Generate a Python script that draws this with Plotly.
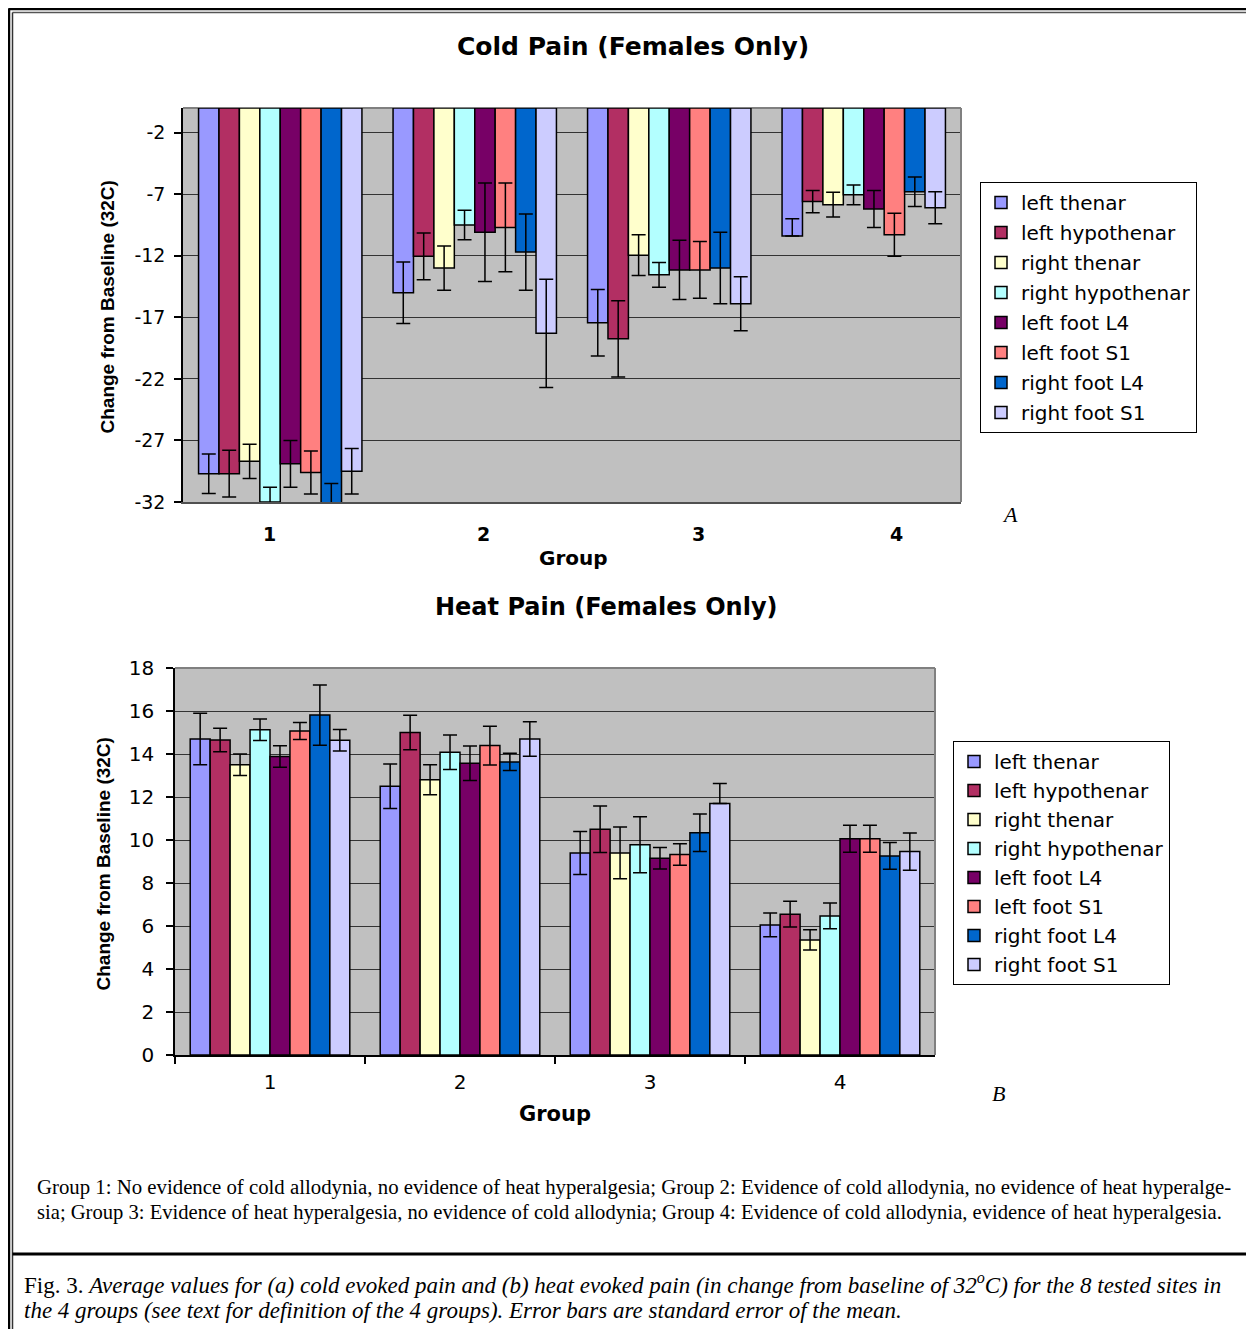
import plotly.graph_objects as go

# The page body adds an 8 px offset, so the figure is drawn 8 px smaller
# and reference pixel positions are mapped with that offset.
OFF = 8
W, H = 1254 - OFF, 1329 - OFF


def px(x):
    return (x - OFF) / W


def py(y):
    return 1 - (y - OFF) / H


groups = ["1", "2", "3", "4"]
sites = ["left thenar", "left hypothenar", "right thenar", "right hypothenar",
         "left foot L4", "left foot S1", "right foot L4", "right foot S1"]
colors = ["#9999FF", "#B22F63", "#FFFFCC", "#B3FFFF",
          "#770066", "#FF8080", "#0066CC", "#CCCCFF"]

# Cold pain (change from baseline), one list per site, groups 1-4
cold_vals = [
    [-29.7, -15.0, -17.45, -10.4],
    [-29.7, -12.05, -18.75, -7.6],
    [-28.7, -13.0, -11.95, -7.85],
    [-32.0, -9.5, -13.55, -7.05],
    [-28.9, -10.1, -13.15, -8.2],
    [-29.6, -9.7, -13.15, -10.3],
    [-32.1, -11.7, -13.0, -6.8],
    [-29.5, -18.3, -15.9, -8.1],
]
cold_err_hi = [
    [1.6, 2.5, 2.7, 1.4],
    [1.9, 1.9, 3.1, 0.9],
    [1.4, 1.8, 1.65, 1.0],
    [1.2, 1.2, 1.0, 0.8],
    [1.9, 4.0, 2.4, 1.5],
    [1.75, 3.6, 2.3, 1.75],
    [1.6, 3.1, 2.9, 1.2],
    [1.85, 4.4, 2.2, 1.3],
]
cold_err_lo = [
    [1.6, 2.5, 2.7, 0.0],
    [1.9, 1.9, 3.1, 0.9],
    [1.4, 1.8, 1.65, 1.0],
    [1.2, 1.2, 1.0, 0.8],
    [1.9, 4.0, 2.4, 1.5],
    [1.75, 3.6, 2.3, 1.75],
    [1.6, 3.1, 2.9, 1.2],
    [1.85, 4.4, 2.2, 1.3],
]

# Heat pain (change from baseline)
heat_vals = [
    [14.7, 12.5, 9.4, 6.05],
    [14.65, 15.0, 10.5, 6.55],
    [13.5, 12.8, 9.4, 5.35],
    [15.13, 14.08, 9.78, 6.47],
    [13.88, 13.57, 9.15, 10.06],
    [15.07, 14.39, 9.33, 10.06],
    [15.81, 13.63, 10.34, 9.26],
    [14.64, 14.7, 11.7, 9.46],
]
heat_err_hi = [
    [1.2, 1.03, 1.0, 0.55],
    [0.55, 0.8, 1.08, 0.6],
    [0.5, 0.7, 1.2, 0.47],
    [0.5, 0.8, 1.3, 0.6],
    [0.5, 0.8, 0.5, 0.63],
    [0.4, 0.9, 0.5, 0.63],
    [1.4, 0.4, 0.87, 0.62],
    [0.5, 0.8, 0.93, 0.87],
]
heat_err_lo = [
    [1.2, 1.03, 1.0, 0.55],
    [0.55, 0.8, 1.08, 0.6],
    [0.5, 0.7, 1.2, 0.47],
    [0.5, 0.8, 1.3, 0.6],
    [0.5, 0.8, 0.5, 0.63],
    [0.4, 0.9, 0.5, 0.63],
    [1.4, 0.4, 0.87, 0.62],
    [0.5, 0.8, 0.0, 0.87],
]

cold_ticks = [-2, -7, -12, -17, -22, -27, -32]
heat_ticks = [0, 2, 4, 6, 8, 10, 12, 14, 16, 18]

SANS = "DejaVu Sans"
ARIAL = "Liberation Sans, Arial"
SERIF = "Liberation Serif, Times New Roman"

fig = go.Figure()

for i, s in enumerate(sites):
    fig.add_trace(go.Bar(
        x=groups, y=cold_vals[i], name=s,
        marker=dict(color=colors[i], line=dict(color="black", width=1.5)),
        error_y=dict(type="data", symmetric=False, array=cold_err_hi[i],
                     arrayminus=cold_err_lo[i], color="black",
                     thickness=1.5, width=7),
        xaxis="x", yaxis="y", legend="legend", legendgroup=f"c{i}",
    ))

for i, s in enumerate(sites):
    fig.add_trace(go.Bar(
        x=groups, y=heat_vals[i], name=s,
        marker=dict(color=colors[i], line=dict(color="black", width=1.5)),
        error_y=dict(type="data", symmetric=False, array=heat_err_hi[i],
                     arrayminus=heat_err_lo[i], color="black",
                     thickness=1.5, width=7),
        xaxis="x2", yaxis="y2", legend="legend2", legendgroup=f"h{i}",
    ))

axis_common = dict(fixedrange=True, automargin=False)

fig.update_layout(
    width=W, height=H,
    margin=dict(l=0, r=0, t=0, b=0, pad=0, autoexpand=False),
    paper_bgcolor="white",
    plot_bgcolor="#C0C0C0",
    barmode="group", bargap=0.16, bargroupgap=0,
    font=dict(family=SANS, color="black"),
    xaxis=dict(domain=[px(183), px(961)], anchor="y", type="category",
               showticklabels=False, ticks="", showgrid=False,
               showline=True, linecolor="#505050", linewidth=2,
               **axis_common),
    yaxis=dict(domain=[py(502), py(108)], anchor="x", range=[-32, 0],
               tickvals=cold_ticks, ticktext=[str(v) for v in cold_ticks],
               ticks="outside", ticklen=7,
               tickcolor="black", tickwidth=1.5,
               showline=True, linecolor="black", linewidth=1.5,
               showgrid=True, gridcolor="#333333", gridwidth=1,
               zeroline=False, ticklabelstandoff=5,
               tickfont=dict(family=SANS, size=19, color="black"),
               **axis_common),
    xaxis2=dict(domain=[px(175), px(935)], anchor="y2", type="category",
                ticks="outside", tickson="boundaries", ticklen=7,
                tickcolor="black", tickwidth=1.5, showgrid=False,
                showline=True, linecolor="black", linewidth=1.5,
                ticklabelstandoff=8,
                tickfont=dict(family=SANS, size=20, color="black"),
                **axis_common),
    yaxis2=dict(domain=[py(1055), py(668)], anchor="x2", range=[0, 18],
                tickvals=heat_ticks, ticks="outside", ticklen=7,
                tickcolor="black", tickwidth=1.5,
                showline=True, linecolor="black", linewidth=1.5,
                showgrid=True, gridcolor="#333333", gridwidth=1,
                zeroline=False, ticklabelstandoff=8,
                tickfont=dict(family=SANS, size=20, color="black"),
                **axis_common),
    legend=dict(x=px(980), y=py(182), xanchor="left", yanchor="top",
                bgcolor="white", bordercolor="black", borderwidth=1,
                font=dict(family=SANS, size=20, color="black"),
                traceorder="grouped", tracegroupgap=1,
                itemclick=False, itemdoubleclick=False),
    legend2=dict(x=px(953), y=py(741), xanchor="left", yanchor="top",
                 bgcolor="white", bordercolor="black", borderwidth=1,
                 font=dict(family=SANS, size=20, color="black"),
                 traceorder="grouped", tracegroupgap=0,
                 itemclick=False, itemdoubleclick=False),
)

ann = []
# chart titles
ann.append(dict(text="<b>Cold Pain (Females Only)</b>", x=px(633), y=py(46),
                font=dict(family=SANS, size=25)))
ann.append(dict(text="<b>Heat Pain (Females Only)</b>", x=px(606), y=py(607),
                font=dict(family=SANS, size=24)))
# y axis titles
ann.append(dict(text="<b>Change from Baseline (32C)</b>", x=px(107), y=py(307.5),
                textangle=-90, font=dict(family=ARIAL, size=19)))
ann.append(dict(text="<b>Change from Baseline (32C)</b>", x=px(103), y=py(864.5),
                textangle=-90, font=dict(family=ARIAL, size=19)))
# x axis titles
ann.append(dict(text="<b>Group</b>", x=px(573), y=py(558),
                font=dict(family=SANS, size=20)))
ann.append(dict(text="<b>Group</b>", x=px(555), y=py(1114),
                font=dict(family=SANS, size=21)))
# top chart category labels (offset as in the original)
shifts = [-11, 9, 29, 33]
for k, (g, sh) in enumerate(zip(groups, shifts)):
    ann.append(dict(text=f"<b>{g}</b>", x=k, xref="x", y=py(534), xshift=sh,
                    font=dict(family=SANS, size=19)))
# panel letters
ann.append(dict(text="<i>A</i>", x=px(1010), y=py(514),
                font=dict(family=SERIF, size=22)))
ann.append(dict(text="<i>B</i>", x=px(998), y=py(1093),
                font=dict(family=SERIF, size=22)))
# captions
ann.append(dict(text="Group 1: No evidence of cold allodynia, no evidence of heat hyperalgesia; "
                     "Group 2: Evidence of cold allodynia, no evidence of heat hyperalge-",
                x=px(35), y=py(1187), xanchor="left",
                font=dict(family=SERIF, size=20.8)))
ann.append(dict(text="sia; Group 3: Evidence of heat hyperalgesia, no evidence of cold allodynia; "
                     "Group 4: Evidence of cold allodynia, evidence of heat hyperalgesia.",
                x=px(35), y=py(1212), xanchor="left",
                font=dict(family=SERIF, size=20.6)))
ann.append(dict(text="Fig. 3. <i>Average values for (a) cold evoked pain and (b) heat evoked pain "
                     "(in change from baseline of 32<sup>o</sup>C) for the 8 tested sites in</i>",
                x=px(22), y=py(1283), xanchor="left",
                font=dict(family=SERIF, size=23)))
ann.append(dict(text="<i>the 4 groups (see text for definition of the 4 groups). "
                     "Error bars are standard error of the mean.</i>",
                x=px(22), y=py(1310), xanchor="left",
                font=dict(family=SERIF, size=23)))

for a in ann:
    a.setdefault("xref", "paper")
    a["yref"] = "paper"
    a["showarrow"] = False
    a.setdefault("xanchor", "center")
    a["yanchor"] = "middle"
    a["font"]["color"] = "black"
fig.update_layout(annotations=ann)

shapes = []
# plot-area borders (gray right and top edges)
for xr, yr in (("x domain", "y domain"), ("x2 domain", "y2 domain")):
    shapes.append(dict(type="line", xref=xr, yref=yr, x0=1, x1=1, y0=0, y1=1,
                       line=dict(color="#808080", width=2), layer="above"))
    shapes.append(dict(type="line", xref=xr, yref=yr, x0=0, x1=1, y0=1, y1=1,
                       line=dict(color="#808080", width=2), layer="below"))


def pline(x0, y0, x1, y1, color, width):
    shapes.append(dict(type="line", xref="paper", yref="paper",
                       x0=px(x0), y0=py(y0), x1=px(x1), y1=py(y1),
                       line=dict(color=color, width=width)))


# page frame
pline(8.5, 9, 1254, 9, "black", 2.5)
pline(9, 8.5, 9, 1329, "black", 2.5)
pline(12.5, 12.5, 1252.5, 12.5, "#555555", 1.5)
pline(12.5, 12.5, 12.5, 1329, "#333333", 1.5)
pline(1252.5, 12.5, 1252.5, 1329, "#888888", 1.5)
pline(12.5, 1254, 1254, 1254, "black", 3)

fig.update_layout(shapes=shapes)

fig.write_html("out.html")
